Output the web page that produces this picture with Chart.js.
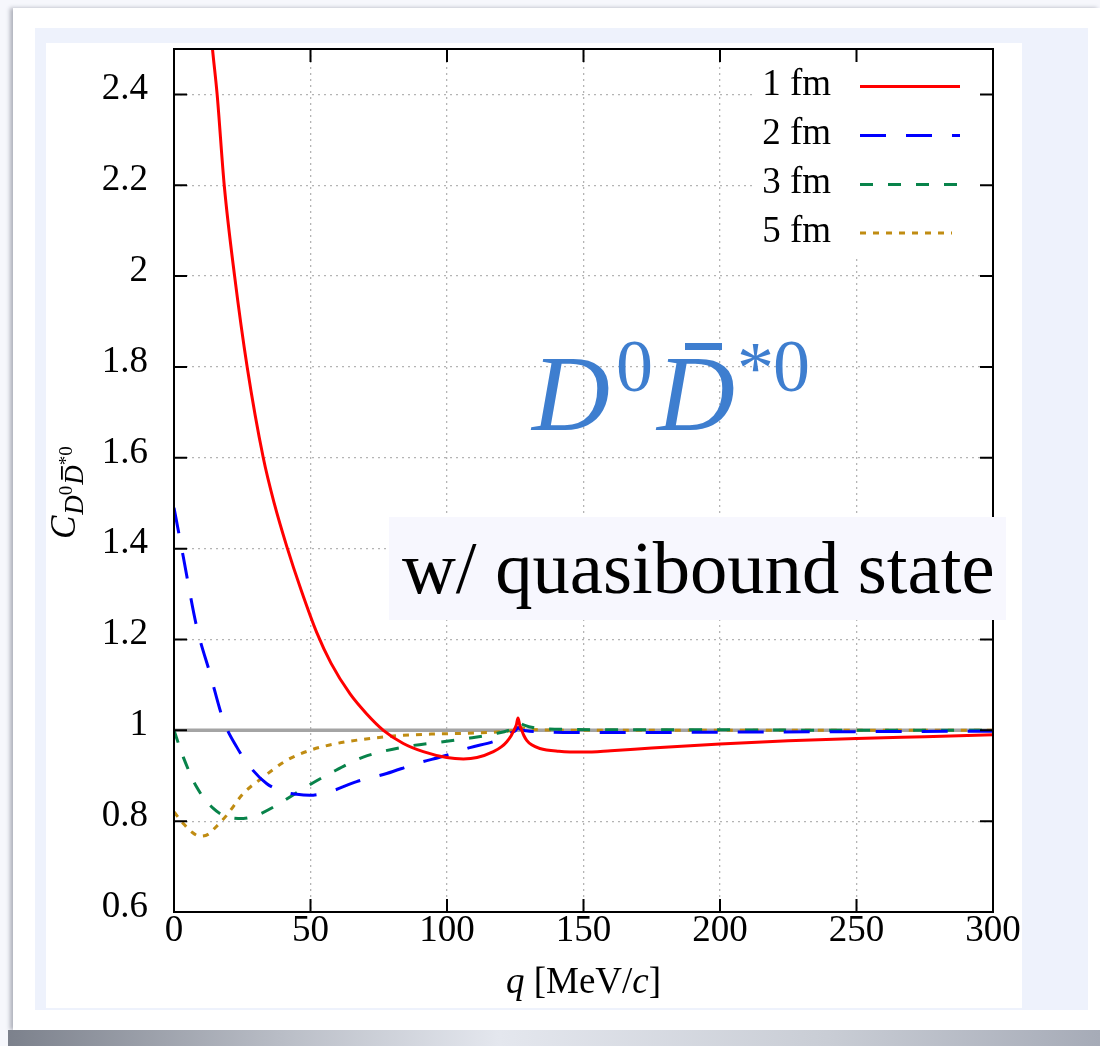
<!DOCTYPE html>
<html><head><meta charset="utf-8">
<script src="https://cdn.jsdelivr.net/npm/chart.js@4.4.1/dist/chart.umd.min.js"></script>
<style>
html,body{margin:0;padding:0;}
body{width:1100px;height:1046px;position:relative;overflow:hidden;background:#f6f7fc;}
#card{position:absolute;left:13px;top:8px;width:1087px;height:1022px;background:#fff;box-shadow:-3px 0 4px rgba(90,95,110,0.45);}
#shadow{position:absolute;left:8px;top:1030px;width:1092px;height:16px;background:linear-gradient(to right,#7c818c,#b9bdc6 25%,#e4e7ee 45%,#c9cdd5 75%,#a6abb7);}
#panel{position:absolute;left:35px;top:28px;width:1053px;height:982px;background:#eef2fc;}
#inner{position:absolute;left:46px;top:43px;width:976px;height:965px;background:#fff;}
canvas{position:absolute;left:0;top:0;}
</style></head>
<body>
<div id="card"></div><div id="shadow"></div><div id="panel"></div><div id="inner"></div>
<canvas id="c" width="1100" height="1046"></canvas>
<script>
const xTickValues = [0, 50, 100, 150, 200, 250, 300];
const yTickValues = [0.6, 0.8, 1.0, 1.2, 1.4, 1.6, 1.8, 2.0, 2.2, 2.4];
const yTickLabels = ['0.6', '0.8', '1', '1.2', '1.4', '1.6', '1.8', '2', '2.2', '2.4'];
const seriesLabels = ['1 fm', '2 fm', '3 fm', '5 fm'];

const q1 = [10, 12, 14.1, 15.8, 18.4, 22.2, 26.8, 32.7, 36.7, 41.3, 46.5, 52.3, 57.5, 64.5, 70.6, 76.7, 84, 91.3, 99.9, 106, 111, 117, 120, 121.9, 123.5, 124.5, 125.4, 126, 126.7, 127.4, 128.2, 129.2, 131, 134, 141, 150, 160, 175, 200, 225, 250, 275, 300];
const c1 = [2.80, 2.64, 2.50, 2.40, 2.20, 2.00, 1.80, 1.60, 1.50, 1.405, 1.31, 1.215, 1.148, 1.080, 1.036, 1.0, 0.971, 0.953, 0.940, 0.937, 0.940, 0.953, 0.964, 0.975, 0.988, 1.0, 1.012, 1.027, 1.010, 1.0, 0.988, 0.978, 0.968, 0.960, 0.954, 0.952, 0.955, 0.961, 0.970, 0.977, 0.982, 0.986, 0.990];

const q2 = [0, 3.4, 8.3, 13.2, 18.1, 23, 27.8, 33.9, 40, 45, 49.8, 57.1, 66.9, 77.9, 88.9, 99.9, 108.4, 116.9, 121, 123.7, 125.2, 126, 127, 129, 134, 146, 170, 200, 250, 300];
const c2 = [1.49, 1.382, 1.228, 1.125, 1.022, 0.963, 0.92, 0.883, 0.865, 0.859, 0.857, 0.865, 0.887, 0.905, 0.927, 0.945, 0.962, 0.975, 0.985, 0.995, 1.0, 1.006, 1.002, 0.999, 0.997, 0.995, 0.995, 0.996, 0.997, 0.998];

const q3 = [0, 3.4, 8.3, 14.4, 19.3, 25.4, 30.3, 37.6, 47.4, 57.1, 69.3, 84, 99.9, 108.4, 118, 122.5, 125, 126.5, 128, 130, 134, 145, 170, 200, 250, 300];
const c3 = [1.0, 0.941, 0.875, 0.828, 0.81, 0.806, 0.813, 0.835, 0.872, 0.905, 0.941, 0.963, 0.976, 0.983, 0.993, 1.0, 1.008, 1.016, 1.012, 1.008, 1.004, 1.002, 1.001, 1.001, 1.0, 1.0];

const q5 = [0, 3.4, 6.5, 9.5, 12.5, 15, 19.3, 25.4, 32.7, 41.3, 49.8, 59.6, 71.8, 84, 96.2, 110, 120, 124, 126.5, 129, 135, 150, 200, 300];
const c5 = [0.82, 0.795, 0.776, 0.767, 0.771, 0.785, 0.813, 0.861, 0.897, 0.934, 0.956, 0.971, 0.982, 0.989, 0.992, 0.994, 0.997, 1.0, 1.007, 1.003, 1.001, 1.0, 1.0, 1.0];

const qRef = [0, 300];
const cRef = [1, 1];

const pts = (q, c) => q.map((v, i) => ({x: v, y: c[i]}));
const SERIF = "'Liberation Serif', 'DejaVu Serif', serif";

const datasets = [
  {label: seriesLabels[0], data: pts(q1, c1), borderColor: '#ff0000', borderWidth: 3, borderDash: []},
  {label: seriesLabels[1], data: pts(q2, c2), borderColor: '#0000ff', borderWidth: 3, borderDash: [26, 20]},
  {label: seriesLabels[2], data: pts(q3, c3), borderColor: '#08834a', borderWidth: 3, borderDash: [13, 15]},
  {label: seriesLabels[3], data: pts(q5, c5), borderColor: '#c08c12', borderWidth: 3, borderDash: [6, 7]},
  {label: 'ref', data: pts(qRef, cRef), borderColor: '#a4a4a4', borderWidth: 3.5, borderDash: []}
].map(d => Object.assign(d, {pointRadius: 0, fill: false, cubicInterpolationMode: 'monotone'}));

function segWidth(ctx, segs) {
  let w = 0;
  for (const s of segs) { ctx.font = s.font; w += ctx.measureText(s.t).width + (s.dx || 0); }
  return w;
}
function drawSegs(ctx, segs, x, y) {
  const xs = [];
  for (const s of segs) {
    ctx.font = s.font;
    x += (s.dx || 0);
    xs.push(x);
    ctx.fillText(s.t, x, y + (s.dy || 0));
    x += ctx.measureText(s.t).width;
  }
  return xs;
}
function inkText(ctx, t, font, inkLeft, baseline) {
  ctx.font = font;
  const m = ctx.measureText(t);
  ctx.fillText(t, inkLeft + m.actualBoundingBoxLeft, baseline);
}

const decor = {
  id: 'decor',
  beforeDatasetsDraw(chart) {
    const {ctx, chartArea: a} = chart;
    ctx.save();
    ctx.fillStyle = '#ffffff';
    ctx.fillRect(752, a.top + 1, a.right - 752 - 1, 206);
    ctx.restore();
  },
  afterDatasetsDraw(chart) {
    const {ctx, chartArea: a} = chart;
    const xs = chart.scales.x, ys = chart.scales.y;
    ctx.save();
    // frame
    ctx.strokeStyle = '#000'; ctx.lineWidth = 2; ctx.setLineDash([]);
    ctx.strokeRect(a.left, a.top, a.right - a.left, a.bottom - a.top);
    // inner ticks, mirrored
    const tl = 13;
    ctx.beginPath();
    xTickValues.forEach(v => {
      const px = xs.getPixelForValue(v);
      ctx.moveTo(px, a.bottom); ctx.lineTo(px, a.bottom - tl);
      ctx.moveTo(px, a.top); ctx.lineTo(px, a.top + tl);
    });
    yTickValues.forEach(v => {
      const py = ys.getPixelForValue(v);
      ctx.moveTo(a.left, py); ctx.lineTo(a.left + tl, py);
      ctx.moveTo(a.right, py); ctx.lineTo(a.right - tl, py);
    });
    ctx.stroke();
    // legend
    const rows = [86.5, 135.5, 184.5, 233];
    ctx.fillStyle = '#000';
    ctx.textAlign = 'right'; ctx.textBaseline = 'alphabetic';
    ctx.font = '37px ' + SERIF;
    seriesLabels.forEach((lab, i) => {
      const ds = chart.data.datasets[i];
      ctx.fillText(lab, 831, rows[i] + 8.5);
      ctx.strokeStyle = ds.borderColor; ctx.lineWidth = ds.borderWidth;
      ctx.setLineDash(ds.borderDash);
      ctx.beginPath(); ctx.moveTo(860, rows[i]); ctx.lineTo(i === 3 ? 952 : 960, rows[i]); ctx.stroke();
    });
    ctx.setLineDash([]);
    ctx.textAlign = 'left';
    // quasibound box
    ctx.fillStyle = '#f7f7fe';
    ctx.fillRect(389, 517, 617, 103);
    ctx.fillStyle = '#000';
    let fs = 74;
    ctx.font = fs + 'px ' + SERIF;
    let m = ctx.measureText('w/ quasibound state');
    fs = fs * 591 / (m.actualBoundingBoxLeft + m.actualBoundingBoxRight);
    inkText(ctx, 'w/ quasibound state', fs.toFixed(1) + 'px ' + SERIF, 402, 593);
    // D0 Dbar*0 label
    const blue = '#3e7ecf';
    ctx.fillStyle = blue;
    inkText(ctx, 'D', 'italic 108px ' + SERIF, 530, 430);
    inkText(ctx, '0', '74px ' + SERIF, 618, 391);
    inkText(ctx, 'D', 'italic 108px ' + SERIF, 655, 430);
    ctx.fillRect(685, 343, 37, 7);
    inkText(ctx, '*', '74px ' + SERIF, 740, 393);
    inkText(ctx, '0', '74px ' + SERIF, 775, 391);
    // x title
    ctx.fillStyle = '#000';
    const xt = [
      {t: 'q', font: 'italic 37px ' + SERIF},
      {t: ' [MeV/', font: '37px ' + SERIF},
      {t: 'c', font: 'italic 37px ' + SERIF},
      {t: ']', font: '37px ' + SERIF}
    ];
    const xw = segWidth(ctx, xt);
    drawSegs(ctx, xt, (a.left + a.right) / 2 - xw / 2, 993);
    // y title (rotated)
    ctx.translate(75, 539);
    ctx.rotate(-Math.PI / 2);
    const yt = [
      {t: 'C', font: 'italic 35px ' + SERIF},
      {t: 'D', font: 'italic 27px ' + SERIF, dy: 8, dx: 1},
      {t: '0', font: '19px ' + SERIF, dy: -3},
      {t: 'D', font: 'italic 27px ' + SERIF, dy: 8, dx: 1},
      {t: '*0', font: '19px ' + SERIF, dy: -3}
    ];
    const px = drawSegs(ctx, yt, 0, 0);
    ctx.font = 'italic 27px ' + SERIF; const wD = ctx.measureText('D').width;
    ctx.fillRect(px[3] + 5, 8 - 22, wD - 6, 1.8);
    ctx.restore();
  }
};

new Chart(document.getElementById('c'), {
  type: 'line',
  data: {datasets},
  options: {
    responsive: false,
    animation: false,
    layout: {padding: {left: 0, right: 107, top: 49, bottom: 74}},
    plugins: {legend: {display: false}, tooltip: {enabled: false}},
    scales: {
      x: {
        type: 'linear', min: 0, max: 300,
        afterBuildTicks: s => { s.ticks = xTickValues.map(v => ({value: v})); },
        afterFit: s => { s.height = 60; },
        ticks: {
          font: {family: SERIF, size: 37, lineHeight: 1}, color: '#000', padding: 1,
          maxRotation: 0, autoSkip: false,
          callback: v => String(v)
        },
        grid: {
          drawTicks: false, lineWidth: 1.3,
          color: c => (c.tick && (c.tick.value === 0 || c.tick.value === 300)) ? 'rgba(0,0,0,0)' : '#b4b4b4'
        },
        border: {display: false, dash: [2, 4]}
      },
      y: {
        type: 'linear', min: 0.6, max: 2.5,
        afterBuildTicks: s => { s.ticks = yTickValues.map(v => ({value: v})); },
        afterFit: s => { s.width = 174; },
        ticks: {
          font: {family: SERIF, size: 37, lineHeight: 1}, color: '#000', padding: 26, labelOffset: -5,
          autoSkip: false,
          callback: (v, i) => yTickLabels[i]
        },
        grid: {
          drawTicks: false, lineWidth: 1.3,
          color: c => (c.tick && Math.abs(c.tick.value - 0.6) < 1e-9) ? 'rgba(0,0,0,0)' : '#b4b4b4'
        },
        border: {display: false, dash: [2, 4]}
      }
    }
  },
  plugins: [decor]
});
</script>
</body></html>
